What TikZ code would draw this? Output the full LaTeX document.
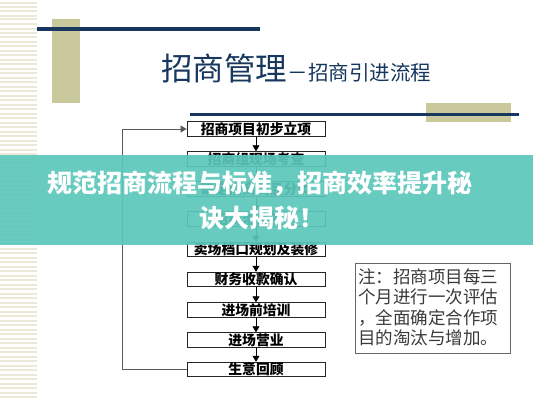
\documentclass[tikz,border=0pt]{standalone}
\usepackage{fontspec}
\newfontfamily\cjk{Noto Sans CJK SC}
\usetikzlibrary{arrows.meta}
\definecolor{navy}{HTML}{17375E}
\definecolor{olive}{HTML}{C9C99C}
\definecolor{stripe}{HTML}{ECE8D6}
\definecolor{band}{HTML}{5CC7BB}
\definecolor{notegray}{HTML}{3A3A3A}
\tikzset{
  flowbox/.style={draw=black!85, line width=0.9pt, minimum width=138pt, minimum height=14.5pt, inner sep=0pt,
    font=\cjk\bfseries\fontsize{13.8}{13.8}\selectfont, text=black},
  flowarrow/.style={draw=black, line width=0.8pt, -{Triangle[width=7pt,length=6pt]}},
  looparrow/.style={draw=black!65, line width=0.8pt, -{Triangle[width=7pt,length=6pt]}},
}
\begin{document}
\begin{tikzpicture}[x=1pt,y=-1pt]
\useasboundingbox (0,0) rectangle (533,400);
\fill[white] (0,0) rectangle (533,400);
% left stripes
\foreach \yy in {3,7,11,16,19,24,29,33,37,42,46,51,55,60,64,69,73,78,82,87,91,96,100,105,109,114,118,123,127,132,136,141,145,150,154,159,163,168,172,177,181,186,190,195,199,204,208,213,217,222,226,231,235,240,244,249,253,258,262,267,271,276,280,285,289,294,298,303,307,312,316,321,325,330,334,339,343,348,352,357,361,366,370,375,379,384,388,393,397}
  \draw[stripe, line width=1.2pt] (0,\yy) -- (37,\yy);
% decorations
\fill[olive] (52,19) rectangle (80,103);
\draw[navy, line width=3.5pt] (37,29) -- (260,29);
\fill[olive] (426,103) rectangle (511,122);
\draw[navy, line width=3.5pt] (190,114.5) -- (519,114.5);
% title
\node[anchor=base west, inner sep=0pt, text=navy, font=\cjk\fontsize{31.5}{31.5}\selectfont] (t1) at (161,80) {招商管理};
\node[anchor=base west, inner sep=0pt, text=navy, font=\cjk\fontsize{20.5}{20.5}\selectfont] (t2) at (t1.base east) {－招商引进流程};
% flow boxes
\node[flowbox] (b1) at (256,129) {招商项目初步立项};
\node[flowbox] (b2) at (256,159) {招商组现场考查};
\node[flowbox] (b3) at (256,189) {确定招商商品分类};
\node[flowbox] (b4) at (256,219) {招商洽谈签约};
\node[flowbox] (b5) at (256,249.5) {卖场档口规划及装修};
\node[flowbox] (b6) at (256,279.5) {财务收款确认};
\node[flowbox] (b7) at (256,310) {进场前培训};
\node[flowbox] (b8) at (256,340) {进场营业};
\node[flowbox] (b9) at (256,369.5) {生意回顾};
\foreach \a/\b in {b1/b2,b2/b3,b3/b4,b4/b5,b5/b6,b6/b7,b7/b8,b8/b9}
  \draw[flowarrow] (\a.south) -- (\b.north);
\coordinate (lp) at (122,369.5);
\draw[looparrow] (b9.west) -- (lp) |- (b1.west);
% note
\node[draw=black!60, line width=0.9pt, minimum width=155pt, minimum height=90pt, inner sep=0pt] (note) at (432.5,308) {};
\node[anchor=north west, inner sep=0pt, text=notegray, align=left, font=\cjk\fontsize{17.5}{20.5}\selectfont] (notetext) at (358,268) {注：招商项目每三\\个月进行一次评估\\，全面确定合作项\\目的淘汰与增加。};
% overlay band
\fill[band, opacity=0.92] (0,155) rectangle (533,245);
\node[text=white, inner sep=0pt, font=\cjk\bfseries\fontsize{25}{25}\selectfont] (h1) at (260,184) {规范招商流程与标准，招商效率提升秘};
\node[text=white, inner sep=0pt, font=\cjk\bfseries\fontsize{25}{25}\selectfont] (h2) at (262,218) {诀大揭秘！};
\end{tikzpicture}
\end{document}
